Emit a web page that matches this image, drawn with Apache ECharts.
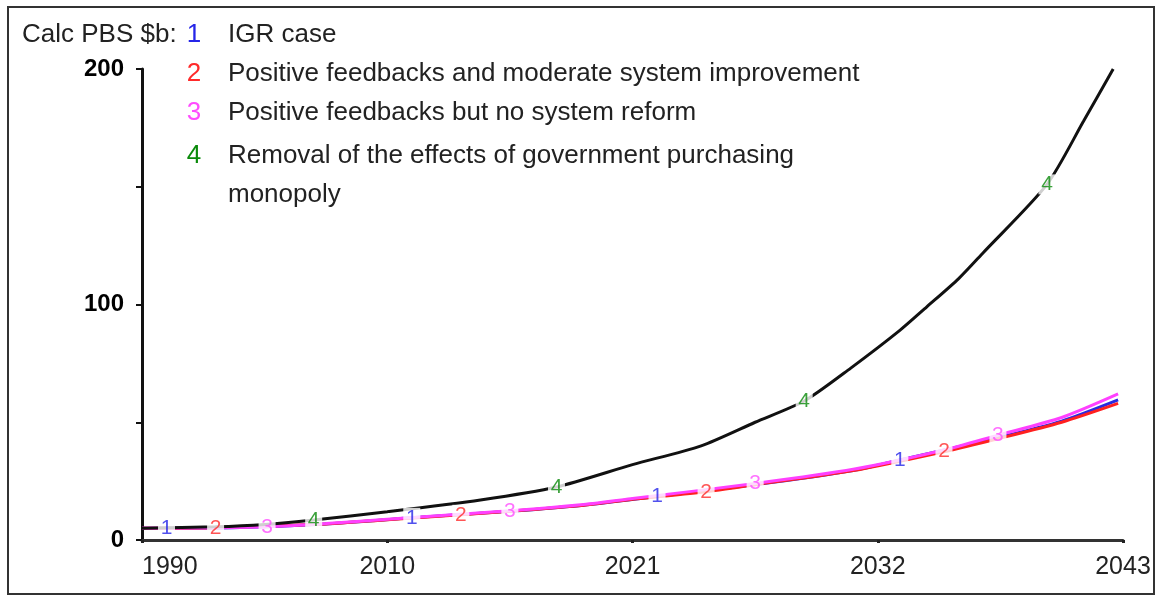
<!DOCTYPE html>
<html>
<head>
<meta charset="utf-8">
<script src="https://cdn.jsdelivr.net/npm/echarts@6/dist/echarts.min.js"></script>
<style>
html,body{margin:0;padding:0;background:#fff;}
#chart{width:1160px;height:599px;}
</style>
</head>
<body>
<div id="chart"></div>
<script>
// Tick labels of the x axis (evenly spaced positions 0..4)
const xTickLabels = ['1990', '2010', '2021', '2032', '2043'];
const yTitle = 'Calc PBS $b:';
const legendNames = [
  'IGR case',
  'Positive feedbacks and moderate system improvement',
  'Positive feedbacks but no system reform',
  'Removal of the effects of government purchasing',
  'monopoly'
];

// Series values: [x position on axis (0 = 1990 ... 4 = 2043), value $b]
const s1 = [[0,5],[0.1,5],[0.4,5.3],[0.75,6.8],[1.1,9.4],[1.5,12.2],[1.8,14.8],[2.1,18.5],[2.5,23.5],[2.9,29.5],[3.09,34],[3.49,43.5],[3.75,50.5],[3.98,59.5]];
const s2 = [[0,5],[0.3,5.2],[0.75,6.8],[1.0,8.6],[1.3,10.7],[1.5,12.2],[1.8,14.8],[2.0,17.3],[2.3,20.5],[2.5,23.5],[2.9,29.5],[3.27,37.5],[3.49,43],[3.75,50],[3.98,58]];
const s3 = [[0,5],[0.3,5.2],[0.51,5.6],[0.75,7],[1.0,8.8],[1.5,12.4],[1.8,15.1],[2.0,17.6],[2.5,24],[2.9,30],[3.27,38.2],[3.49,44.5],[3.75,52],[3.98,62]];
const s4 = [[0,5],[0.3,5.6],[0.5,6.6],[0.7,8.5],[1.0,12],[1.38,17],[1.69,22.5],[2.0,32],[2.28,40],[2.5,50],[2.7,59],[2.89,73],[3.09,89],[3.2,99],[3.33,111],[3.43,122],[3.69,151],[3.84,178],[3.96,200]];

// Indices of points in each series that carry the series number marker
const lab1 = [1,4,7,10];
const lab2 = [1,4,8,11];
const lab3 = [2,5,8,11];
const lab4 = [3,6,10,16];

const lineColors = ['#2a2ae0', '#ff2020', '#ff40ff', '#111111'];
const numColors = ['#2525e8', '#ff2a2a', '#ff4cff', '#0a8a0a'];

const FONT = '"Liberation Sans", Arial, sans-serif';

const chart = echarts.init(document.getElementById('chart'), null, {renderer:'canvas'});

const allData = [s1, s2, s3, s4];
const allLab = [lab1, lab2, lab3, lab4];

const series = [];
allData.forEach((d, i) => {
  series.push({
    type: 'line', data: d, showSymbol: false, smooth: 0.25,
    lineStyle: {color: lineColors[i], width: 3},
    z: 2 + i * 0.1, silent: true
  });
});
allData.forEach((d, i) => {
  series.push({
    type: 'scatter',
    data: allLab[i].map(k => d[k]),
    symbol: 'rect', symbolSize: [17, 20],
    itemStyle: {color: '#ffffff'},
    label: {show: true, position: 'inside', formatter: String(i + 1),
      color: numColors[i], fontSize: 21, fontFamily: FONT},
    z: 5, silent: true
  });
});

const graphics = [
  {type:'rect', shape:{x:8, y:7, width:1146, height:587},
   style:{fill:'none', stroke:'#333', lineWidth:2}, silent:true},
  {type:'text', x:22, y:35, style:{text:yTitle, font:'26px ' + FONT, fill:'#222', verticalAlign:'middle'}}
];
const rowsY = [35, 74, 113, 156, 195];
legendNames.forEach((t, i) => {
  if (i < 4) {
    graphics.push({type:'text', x:194, y:rowsY[i], style:{text:String(i+1), font:'26px ' + FONT,
      fill:numColors[i], align:'center', verticalAlign:'middle'}});
  }
  graphics.push({type:'text', x:228, y:rowsY[i], style:{text:t, font:'26px ' + FONT,
    fill:'#222', verticalAlign:'middle'}});
});

chart.setOption({
  animation: false,
  backgroundColor: '#ffffff',
  grid: {left: 142, right: 37, top: 69, bottom: 59, containLabel: false},
  xAxis: {
    type: 'value', min: 0, max: 4, interval: 1,
    axisLine: {show: true, lineStyle: {color: '#333', width: 3}},
    axisTick: {show: true, length: 3, lineStyle: {color: '#222', width: 3}},
    splitLine: {show: false},
    axisLabel: {formatter: v => xTickLabels[Math.round(v)] || '', fontSize: 25,
      fontFamily: FONT, color: '#222', margin: 15, alignMinLabel: 'left'}
  },
  yAxis: {
    type: 'value', min: 0, max: 200, interval: 50,
    axisLine: {show: true, lineStyle: {color: '#111', width: 3}},
    axisTick: {show: true, length: 6, lineStyle: {color: '#111', width: 2}},
    splitLine: {show: false},
    axisLabel: {formatter: v => (v % 100 === 0 ? String(v) : ''), fontSize: 24,
      fontWeight: 'bold', fontFamily: FONT, color: '#000', margin: 18}
  },
  graphic: graphics,
  series: series
});
</script>
</body>
</html>
